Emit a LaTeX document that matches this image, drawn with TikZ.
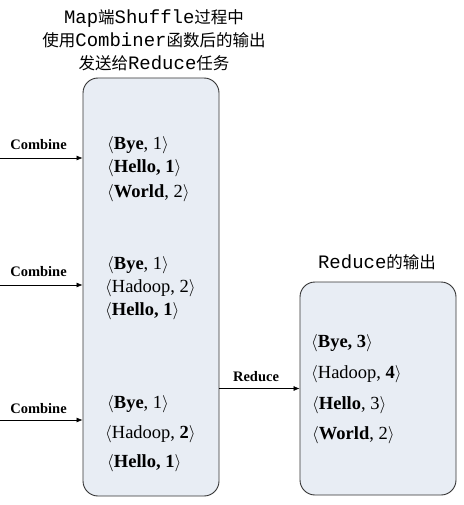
\documentclass[tikz,border=0pt]{standalone}
\usepackage{fontspec}
\setmainfont{Liberation Serif}
\newfontfamily\cjk{Noto Sans CJK SC}
\newfontfamily\tmono{Liberation Mono}[Scale=1.15]
\usetikzlibrary{arrows.meta}
\definecolor{boxfill}{HTML}{E8EDF4}
\newcommand{\la}{$\langle$}
\newcommand{\ra}{$\rangle$}
\begin{document}
\begin{tikzpicture}[x=1pt,y=-1pt,
  box/.style={draw=black!80, line width=0.9pt, fill=boxfill, rounded corners=15pt, inner sep=0pt},
  entry/.style={anchor=west, inner sep=0pt, font=\fontsize{18.5}{21}\selectfont},
  lbl/.style={inner sep=0pt, font=\fontsize{14.5}{16}\selectfont\bfseries},
  ttl/.style={align=center, inner sep=0pt, font=\fontsize{16.5}{23}\selectfont},
  arr/.style={-{Latex[length=6pt,width=5pt]}, line width=0.6pt}]
\useasboundingbox (0,0) rectangle (463,505);

% boxes
\node[box, minimum width=136pt, minimum height=418pt] (L) at (151,287) {};
\node[box, minimum width=156pt, minimum height=213pt] (R) at (378,388.5) {};

% titles
\node[ttl] (t1) at (154,40) {{\tmono Map}{\cjk 端}{\tmono Shuffle}{\cjk 过程中}\\
  {\cjk 使用}{\tmono Combiner}{\cjk 函数后的输出}\\
  {\cjk 发送给}{\tmono Reduce}{\cjk 任务}};
\node[ttl] (t2) at (377,262) {{\tmono Reduce}{\cjk 的输出}};

% combine arrows
\coordinate (c1) at (0,158);
\coordinate (c2) at (0,285);
\coordinate (c3) at (0,420);
\draw[arr] (c1) -- (c1 -| L.west);
\draw[arr] (c2) -- (c2 -| L.west);
\draw[arr] (c3) -- (c3 -| L.west);
\node[lbl] (l1) at (38.5,145) {Combine};
\node[lbl] (l2) at (38.5,272) {Combine};
\node[lbl] (l3) at (38.5,409) {Combine};

% reduce arrow
\draw[arr] (L.east |- R.west) -- (R.west);
\node[lbl] (l4) at (256,377) {Reduce};

% left entries
\node[entry] (a1) at (107,145) {\la\textbf{Bye}, 1\ra};
\node[entry] (a2) at (107,168) {\la\textbf{Hello, 1}\ra};
\node[entry] (a3) at (107,193) {\la\textbf{World}, 2\ra};
\node[entry] (b1) at (107,265) {\la\textbf{Bye}, 1\ra};
\node[entry] (b2) at (105,288) {\la Hadoop, 2\ra};
\node[entry] (b3) at (105,311) {\la\textbf{Hello, 1}\ra};
\node[entry] (d1) at (107,404) {\la\textbf{Bye}, 1\ra};
\node[entry] (d2) at (105,434) {\la Hadoop, \textbf{2}\ra};
\node[entry] (d3) at (107,463) {\la\textbf{Hello, 1}\ra};

% right entries
\node[entry] (r1) at (311,343) {\la\textbf{Bye, 3}\ra};
\node[entry] (r2) at (311,374) {\la Hadoop, \textbf{4}\ra};
\node[entry] (r3) at (312,405) {\la\textbf{Hello}, 3\ra};
\node[entry] (r4) at (312,435) {\la\textbf{World}, 2\ra};
\end{tikzpicture}
\end{document}
